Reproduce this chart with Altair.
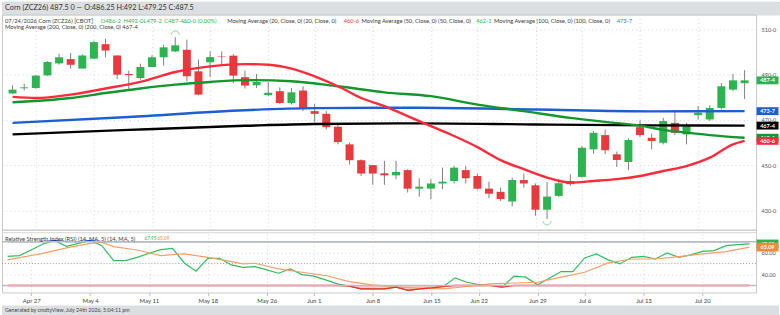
import altair as alt
import pandas as pd

# ---------------- data ----------------
dates = ["Apr 23", "Apr 24", "Apr 27", "Apr 28", "Apr 29", "Apr 30", "May 1",
         "May 4", "May 5", "May 6", "May 7", "May 8",
         "May 11", "May 12", "May 13", "May 14", "May 15",
         "May 18", "May 19", "May 20", "May 21", "May 22",
         "May 26", "May 27", "May 28", "May 29",
         "Jun 1", "Jun 2", "Jun 3", "Jun 4", "Jun 5",
         "Jun 8", "Jun 9", "Jun 10", "Jun 11", "Jun 12",
         "Jun 15", "Jun 16", "Jun 17", "Jun 18",
         "Jun 22", "Jun 23", "Jun 24", "Jun 25", "Jun 26",
         "Jun 29", "Jun 30", "Jul 1", "Jul 2",
         "Jul 6", "Jul 7", "Jul 8", "Jul 9", "Jul 10",
         "Jul 13", "Jul 14", "Jul 15", "Jul 16", "Jul 17",
         "Jul 20", "Jul 21", "Jul 22", "Jul 23", "Jul 24"]

opens = [481.7, 484.0, 484.1, 489.7, 495.0, 496.9, 492.7,
         497.1, 503.5, 498.5, 490.3, 488.5,
         493.4, 497.7, 500.3, 501.0, 491.5,
         495.5, 498.1, 498.4, 488.9, 485.3,
         481.0, 482.7, 477.5, 483.0,
         473.9, 472.7, 467.0, 459.2, 452.2,
         450.0, 446.4, 445.5, 447.8, 439.6,
         439.6, 441.9, 443.0, 447.8,
         445.2, 439.6, 438.2, 433.9, 443.4,
         441.1, 430.3, 436.4, 443.0,
         444.8, 457.0, 463.3, 454.8, 451.4,
         466.8, 462.1, 459.9, 468.7, 463.6,
         472.1, 470.2, 475.3, 483.4, 486.25]
highs = [485.3, 486.0, 489.8, 496.0, 499.3, 499.6, 499.0,
         505.0, 505.9, 498.5, 491.8, 494.9,
         498.6, 503.3, 506.6, 505.5, 496.7,
         500.3, 500.3, 499.1, 491.8, 490.3,
         486.8, 484.4, 484.1, 484.9,
         477.1, 473.9, 468.0, 460.0, 452.6,
         450.0, 451.9, 451.9, 448.2, 444.2,
         443.8, 448.9, 449.6, 449.6,
         446.3, 442.7, 440.1, 444.5, 446.3,
         441.9, 442.6, 444.0, 446.0,
         458.5, 465.1, 465.8, 456.0, 461.9,
         469.8, 463.9, 470.9, 474.2, 468.7,
         476.1, 476.5, 486.3, 490.3, 492.0]
lows = [481.5, 483.0, 483.8, 489.5, 494.4, 492.7, 492.7,
        497.1, 497.7, 488.1, 483.4, 487.8,
        493.4, 494.0, 500.0, 487.1, 480.9,
        488.9, 494.4, 486.3, 483.9, 484.1,
        480.5, 477.1, 476.8, 473.9,
        469.0, 465.8, 459.2, 450.4, 445.2,
        441.3, 441.3, 443.8, 437.9, 436.0,
        435.0, 439.4, 441.9, 441.9,
        439.2, 435.4, 434.2, 431.7, 440.1,
        427.6, 426.2, 436.0, 440.8,
        444.5, 455.1, 454.8, 449.2, 447.8,
        462.4, 457.0, 459.2, 463.3, 459.2,
        470.2, 469.5, 474.6, 482.7, 479.25]
closes = [483.4, 484.4, 489.6, 495.6, 497.7, 494.4, 498.5,
          504.4, 500.7, 490.0, 489.8, 493.4,
          497.7, 502.1, 503.0, 489.3, 481.2,
          497.8, 497.9, 489.6, 485.2, 486.8,
          482.0, 477.5, 482.2, 475.3,
          472.7, 466.8, 460.2, 452.2, 446.3,
          446.3, 445.5, 447.0, 439.6, 440.5,
          441.9, 442.7, 448.9, 444.2,
          439.6, 437.4, 435.0, 443.4, 441.9,
          430.3, 436.1, 442.0, 441.6,
          457.7, 464.3, 456.6, 452.3, 461.1,
          463.3, 460.7, 469.5, 464.3, 467.6,
          473.2, 475.3, 484.9, 487.5, 487.5]

# moving averages read at sample sessions (session index, value)
ma20_idx = [0, 2, 5, 8, 11, 14, 17, 20, 22, 24, 26, 28, 30, 32, 34, 36, 38, 40,
            42, 44, 46, 48, 50, 52, 54, 56, 58, 60, 62, 63]
ma20_val = [480.2, 479.7, 481.2, 483.9, 486.8, 491.2, 493.7, 494.7, 494.4, 492.7,
            489.3, 484.9, 479.7, 476.1, 471.7, 467.3, 462.9, 458.0, 452.2, 448.2,
            444.5, 442.3, 443.0, 443.8, 445.2, 447.4, 449.6, 453.3, 459.2, 460.75]
ma50_idx = [0, 5, 8, 11, 14, 17, 20, 24, 28, 32, 36, 40, 44, 48, 52, 54, 56, 58, 60, 63]
ma50_val = [477.8, 479.7, 481.9, 483.9, 485.6, 486.8, 487.6, 487.1, 484.9, 482.2,
            480.5, 476.8, 473.9, 470.9, 468.6, 467.5, 465.6, 464.4, 463.3, 462.125]
ma100_idx = [0, 10, 20, 26, 35, 45, 55, 63]
ma100_val = [468.7, 471.3, 474.3, 475.2, 475.4, 474.6, 473.8, 473.875]
ma200_idx = [0, 10, 20, 26, 35, 45, 55, 63]
ma200_val = [463.6, 465.6, 467.4, 468.2, 468.5, 468.0, 467.6, 467.5]

rsi = [56.6, 57.3, 62.4, 67.9, 70.9, 65.7, 68.5, 70.9, 66.4, 52.7,
       52.7, 55.7, 59.4, 62.7, 63.9, 50.6, 43.0, 54.8, 54.8, 48.8,
       46.6, 47.3, 44.3, 41.2, 45.2, 40.0, 38.5, 35.2, 31.5, 29.4,
       27.0, 27.0, 27.0, 28.5, 25.5, 27.0, 27.9, 29.1, 37.0, 33.0,
       30.9, 30.0, 28.5, 38.5, 37.6, 30.6, 36.7, 42.7, 42.7, 55.2,
       58.8, 53.4, 49.7, 55.7, 56.6, 54.2, 59.7, 55.7, 57.9, 61.2,
       61.8, 66.4, 67.3, 67.95]
rsima_idx = [0, 3, 5, 7, 8, 9, 11, 13, 14, 15, 17, 19, 20, 21, 23, 25, 27, 29, 31,
             33, 35, 37, 39, 41, 45, 47, 49, 51, 53, 55, 57, 59, 61, 63]
rsima_val = [53.4, 59.4, 64.3, 68.5, 69.4, 65.5, 62.4, 57.3, 58.2, 58.8, 55.7, 51.8,
             49.7, 50.3, 45.2, 42.1, 39.1, 33.6, 30.6, 28.5, 27.6, 27.0, 29.1, 31.5,
             33.0, 37.6, 42.1, 50.6, 54.2, 54.2, 56.4, 58.8, 60.9, 65.09]

tick_dates = ["Apr 27", "May 4", "May 11", "May 18", "May 26", "Jun 1", "Jun 8",
              "Jun 15", "Jun 22", "Jun 29", "Jul 6", "Jul 13", "Jul 20"]
price_ticks = [430, 440, 450, 460, 470, 480, 490, 500, 510]

last_vals = [487.5, 473.875, 467.5, 462.125, 460.75]
last_txt = ["487-4", "473-7", "467-4", "462-1", "460-6"]
rsi_last = [67.95, 65.09]
rsi_last_txt = ["67.95", "65.09"]
swing_idx = [14, 46]
swing_px = [507.6, 425.3]

# ---------------- styles ----------------
GREEN = "#2bb44f"
RED = "#e8393d"
C_MA20 = "#ff2b3b"
C_MA50 = "#14962e"
C_MA100 = "#1b5fd3"
C_MA200 = "#000000"
ORANGE = "#f08a3c"
DARK = "#3a3a3a"
GRID = "#d4d4d4"
BAR_GRAY = "#dcdfe2"
FONT = "Lato"

W = 757
X_DOM = [-0.482, 63.56]
P_DOM = [421.45, 516.6]
R_DOM = [23.64, 80.91]

tick_idx = [dates.index(d) for d in tick_dates]
label_expr = "[" + ",".join("'%s'" % d for d in dates) + "][datum.value]"

candles = pd.DataFrame({"i": list(range(len(dates))), "d": dates, "open": opens,
                        "high": highs, "low": lows, "close": closes, "r": rsi})

xs = alt.Scale(domain=X_DOM, nice=False, zero=False)
ys = alt.Scale(domain=P_DOM, nice=False, zero=False)
rs = alt.Scale(domain=R_DOM, nice=False, zero=False)
one = pd.DataFrame({"k": [0]})


def txt(s, x, y, color=DARK, size=5.8, weight="normal"):
    return alt.Chart(one).mark_text(align="left", baseline="middle", fontSize=size,
                                    color=color, fontWeight=weight).encode(
        x=alt.value(x), y=alt.value(y), text=alt.value(s))


def value_tags(vals, texts, colors, scale, half_h):
    layers = []
    for v, t, c in zip(vals, texts, colors):
        df = pd.DataFrame({"v": [v], "t": [t]})
        layers.append(alt.Chart(df).mark_point(
            shape="M-1,-%sH1V%sH-1Z" % (half_h, half_h), size=484, filled=True,
            opacity=1, strokeWidth=0, color=c).encode(
            x=alt.value(768.5), y=alt.Y("v:Q", scale=scale)))
        layers.append(alt.Chart(df).mark_text(
            color="white", fontSize=5.5, fontWeight="bold", align="center",
            baseline="middle").encode(
            x=alt.value(768.5), y=alt.Y("v:Q", scale=scale), text="t:N"))
    return layers


# ---------------- price panel ----------------
base = alt.Chart(candles)
wick = base.mark_rule(color="#808080", strokeWidth=1).encode(
    x=alt.X("i:Q", scale=xs, axis=alt.Axis(values=tick_idx, labels=False, ticks=False,
                                           domain=False, grid=True, gridDash=[1, 3],
                                           gridColor=GRID, title=None)),
    y=alt.Y("low:Q", scale=ys, axis=alt.Axis(orient="right", values=price_ticks,
                                             labelExpr="datum.value + '-0'",
                                             grid=True, gridDash=[1, 3], gridColor=GRID,
                                             ticks=False, domain=False, labelFontSize=5.5,
                                             labelColor="#555", labelPadding=5,
                                             labelAlign="left", title=None)),
    y2="high:Q")
body = base.mark_bar(size=8).encode(
    x=alt.X("i:Q", scale=xs), y=alt.Y("open:Q", scale=ys), y2="close:Q",
    color=alt.condition("datum.close >= datum.open", alt.value(GREEN), alt.value(RED)))


def ma_line(idx, val, color):
    df = pd.DataFrame({"i": idx, "v": val})
    return alt.Chart(df).mark_line(color=color, strokeWidth=2.4, interpolate="monotone").encode(
        x=alt.X("i:Q", scale=xs), y=alt.Y("v:Q", scale=ys))


sw = pd.DataFrame({"i": swing_idx, "p": swing_px})
swing_top = alt.Chart(sw.iloc[[0]]).mark_point(shape="M-1,0A1,1 0 0,1 1,0", size=64,
                                               filled=False, color="#5fc57c", strokeWidth=1).encode(
    x=alt.X("i:Q", scale=xs), y=alt.Y("p:Q", scale=ys))
swing_bot = alt.Chart(sw.iloc[[1]]).mark_point(shape="M-1,0A1,1 0 0,0 1,0", size=64,
                                               filled=False, color="#5fc57c", strokeWidth=1).encode(
    x=alt.X("i:Q", scale=xs), y=alt.Y("p:Q", scale=ys))

price_tags = value_tags(last_vals, last_txt, [GREEN, C_MA100, C_MA200, C_MA50, C_MA20], ys, 0.36)

legend = [
    ("07/24/2026 Corn (ZCZ26) [CBOT]", 3, DARK),
    ("O486-2", 99, GREEN), ("H492-0", 122, GREEN), ("L479-2", 142, GREEN),
    ("C487-4", 163, GREEN), ("\u03940-0 (0.00%)", 182, GREEN),
    ("Moving Average (20, Close, 0)  (20, Close, 0)", 226, DARK),
    ("460-6", 343, "#ff3b3b"),
    ("Moving Average (50, Close, 0)  (50, Close, 0)", 361, DARK),
    ("462-1", 476, GREEN),
    ("Moving Average (100, Close, 0)  (100, Close, 0)", 494, DARK),
    ("473-7", 617, "#2a7de1"),
]
leg_layers = [txt(s, x, 6, c) for s, x, c in legend]
leg_layers.append(txt("Moving Average (200, Close, 0)  (200, Close, 0)  467-4", 3, 13))

price = alt.layer(
    wick, body,
    ma_line(ma200_idx, ma200_val, C_MA200),
    ma_line(ma100_idx, ma100_val, C_MA100),
    ma_line(ma50_idx, ma50_val, C_MA50),
    ma_line(ma20_idx, ma20_val, C_MA20),
    swing_top, swing_bot, *price_tags, *leg_layers
).properties(width=W, height=216)

# ---------------- RSI panel ----------------
rbase = alt.Chart(candles)
rline = rbase.mark_line(color="#2fbf5f", strokeWidth=1.2).encode(
    x=alt.X("i:Q", scale=xs, axis=alt.Axis(values=tick_idx, labelExpr=label_expr,
                                           ticks=True, tickSize=3, tickColor="#bbbbbb",
                                           domain=False, grid=True, gridDash=[1, 3],
                                           gridColor=GRID, labelFontSize=6,
                                           labelColor="#444", labelPadding=2, title=None)),
    y=alt.Y("r:Q", scale=rs, axis=alt.Axis(orient="right", values=[40, 60], format=".2f",
                                           grid=True, gridDash=[1, 3], gridColor=GRID,
                                           ticks=False, domain=False, labelFontSize=5.5,
                                           labelColor="#555", labelPadding=5,
                                           labelAlign="left", title=None)))
ma_df = pd.DataFrame({"i": rsima_idx, "v": rsima_val})
rma = alt.Chart(ma_df).mark_line(color="#f5a06a", strokeWidth=1.2).encode(
    x=alt.X("i:Q", scale=xs), y=alt.Y("v:Q", scale=rs))
low_area = rbase.transform_calculate(lo="min(datum.r, 30)", th="30").mark_area(
    color="#ff8a8a", opacity=0.45).encode(
    x=alt.X("i:Q", scale=xs), y=alt.Y("lo:Q", scale=rs), y2="th:Q")
low_line = rbase.transform_calculate(lo="min(datum.r, 30)").mark_line(
    color="#ff2a2a", strokeWidth=1.3).encode(x=alt.X("i:Q", scale=xs), y=alt.Y("lo:Q", scale=rs))
high_line = rbase.transform_calculate(hi="max(datum.r, 70)").mark_line(
    color="#2040e0", strokeWidth=1.3).encode(x=alt.X("i:Q", scale=xs), y=alt.Y("hi:Q", scale=rs))

levels = pd.DataFrame({"lv": [30, 70], "sep": [78.2, 78.2]})
lvl = alt.Chart(levels).mark_rule(color="#bdbdbd", strokeWidth=1.6).encode(
    y=alt.Y("lv:Q", scale=rs))
sep = alt.Chart(levels.iloc[[0]]).mark_rule(color="#d6d6d6", strokeWidth=1).encode(
    y=alt.Y("sep:Q", scale=rs))
mid = alt.Chart(pd.DataFrame({"m": [50]})).mark_rule(color="#9a9a9a", strokeWidth=1,
                                                      strokeDash=[1, 2]).encode(
    y=alt.Y("m:Q", scale=rs))

rsi_tags = value_tags(rsi_last, rsi_last_txt, [GREEN, ORANGE], rs, 0.4)

rsi_leg = [txt("Relative Strength Index (RSI) (14, MA, 5)  (14, MA, 5)", 3, 9),
           txt("67.95", 143, 9, GREEN, 4.7), txt("65.09", 156, 9, ORANGE, 4.7)]

rsi_panel = alt.layer(
    sep, mid, low_area, rline, rma, low_line, high_line, lvl, *rsi_tags, *rsi_leg
).properties(width=W, height=63)

# ---------------- header / footer ----------------
header = txt("Corn (ZCZ26) 487.5 0 \u2014 O:486.25 H:492 L:479.25 C:487.5", 3, 6, "#333", 7.3).properties(
    width=780, height=13, view=alt.ViewBackground(fill=BAR_GRAY, stroke=BAR_GRAY))

band = alt.Chart(one).mark_rect(color=BAR_GRAY).encode(
    x=alt.value(0), x2=alt.value(780), y=alt.value(13), y2=alt.value(23))
footer = alt.layer(
    band, txt("Generated by cmdtyView, July 24th 2026, 5:04:11 pm", 3, 18, "#444", 5.3)
).properties(width=780, height=23,
             view=alt.ViewBackground(fill="#ffffff", fillOpacity=0, stroke="#ffffff",
                                     strokeOpacity=0))

chart = alt.vconcat(header, price, rsi_panel, footer, spacing=0, bounds="flush").resolve_scale(
    x="independent", y="independent").configure(
    font=FONT, background="white", padding=0).configure_view(stroke="#c9c9c9")

chart.save("out.html", embed_options={"renderer": "svg", "actions": False})
